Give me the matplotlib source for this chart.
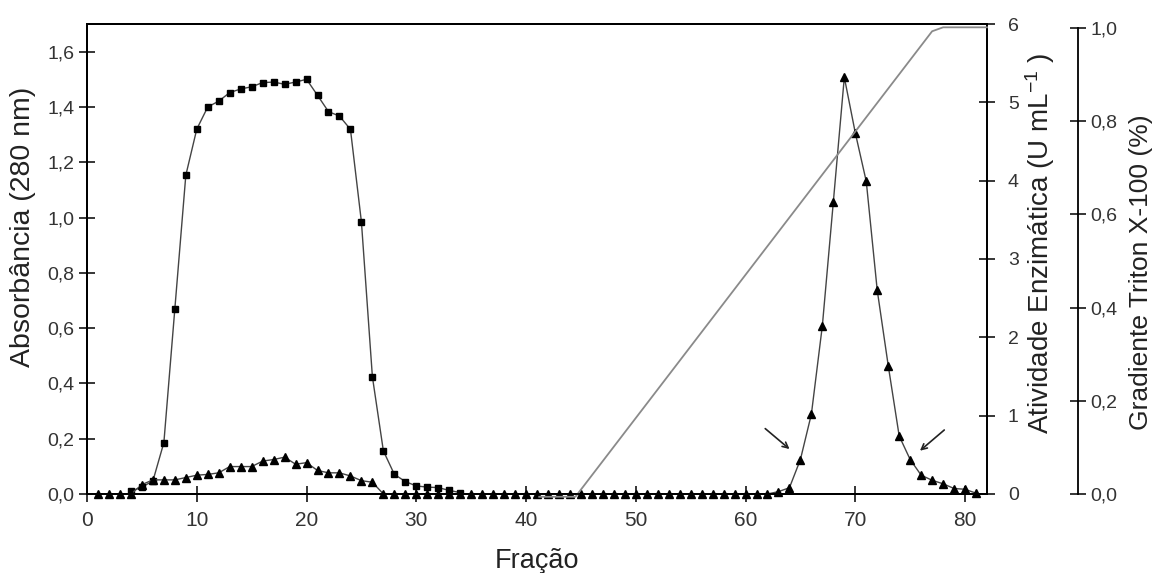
import numpy as np
import matplotlib.pyplot as plt

plt.rcParams['font.family'] = ['Liberation Sans', 'DejaVu Sans']
plt.rcParams['mathtext.fontset'] = 'custom'
plt.rcParams['mathtext.rm'] = 'Liberation Sans'
plt.rcParams['mathtext.it'] = 'Liberation Sans'

# Absorbancia 280 nm (quadrados)
frac_abs = [4, 5, 6, 7, 8, 9, 10, 11, 12, 13, 14, 15, 16, 17, 18, 19, 20,
            21, 22, 23, 24, 25, 26, 27, 28, 29, 30, 31, 32, 33, 34]
absorb = [0.01, 0.025, 0.047, 0.186, 0.67, 1.153, 1.32, 1.40, 1.421, 1.452,
          1.465, 1.473, 1.488, 1.490, 1.482, 1.49, 1.50, 1.442, 1.383, 1.367,
          1.319, 0.984, 0.424, 0.156, 0.071, 0.045, 0.029, 0.025, 0.023,
          0.013, 0.005]

# atividade enzimatica (triangulos)
frac_ativ = list(range(1, 82))
ativ = [0, 0, 0, 0, 0.12, 0.18, 0.18, 0.18, 0.21, 0.24,
        0.25, 0.27, 0.35, 0.35, 0.35, 0.42, 0.44, 0.47, 0.38, 0.40,
        0.30, 0.27, 0.27, 0.23, 0.17, 0.15, 0, 0, 0, 0,
        0, 0, 0, 0, 0, 0, 0, 0, 0, 0,
        0, 0, 0, 0, 0, 0, 0, 0, 0, 0,
        0, 0, 0, 0, 0, 0, 0, 0, 0, 0,
        0, 0, 0.03, 0.08, 0.44, 1.02, 2.15, 3.73, 5.32, 4.61,
        3.99, 2.60, 1.64, 0.74, 0.44, 0.24, 0.175, 0.13, 0.07, 0.06,
        0.01]

# gradiente Triton X-100
frac_grad = [41.2, 44.5, 77.0, 78.0, 82.0]
grad = [-0.006, -0.006, 0.993, 1.0015, 1.0015]

abs_ticks = ['0,0', '0,2', '0,4', '0,6', '0,8', '1,0', '1,2', '1,4', '1,6']
triton_ticks = ['0,0', '0,2', '0,4', '0,6', '0,8', '1,0']

fig = plt.figure(figsize=(11.56, 5.73), dpi=100)
ax = fig.add_axes([0.0753, 0.1379, 0.7785, 0.8202])
ax2 = ax.twinx()
ax3 = ax.twinx()
ax3.spines['right'].set_position(('axes', 1.101))

ax3.plot(frac_grad, grad, color='#8a8a8a', lw=1.3, clip_on=False, zorder=1)
ax.plot(frac_abs, absorb, color='#444444', lw=1.0, marker='s', ms=5,
        mfc='black', mec='black', zorder=3)
ax2.plot(frac_ativ, ativ, color='#444444', lw=1.0, marker='^', ms=5.5,
         mfc='black', mec='black', clip_on=False)

ax.set_xlim(0, 82)
ax.set_ylim(0, 1.7)
ax2.set_ylim(0, 6)
ax3.set_ylim(0, 1.0086)
ax3.spines['right'].set_bounds(0, 1.0)

ax.set_xticks(np.arange(0, 81, 10))
ax.set_yticks(np.arange(0, 1.61, 0.2))
ax.set_yticklabels(abs_ticks)
ax2.set_yticks(range(0, 7))
ax3.set_yticks(np.arange(0, 1.01, 0.2))
ax3.set_yticklabels(triton_ticks)

for a in (ax, ax2, ax3):
    a.tick_params(direction='inout', length=12, width=1.1, labelsize=14,
                  colors='black', labelcolor='#333333', pad=3)
    for s in a.spines.values():
        s.set_linewidth(1.3)
ax.tick_params(axis='x', labelsize=15, pad=6)
ax2.tick_params(axis='y', pad=9)

ax.set_xlabel('Fração', fontsize=19.5, color='#222222', labelpad=13)
ax.set_ylabel('Absorbância (280 nm)', fontsize=20.5, color='#222222', labelpad=8)
ax2.set_ylabel('Atividade Enzimática (U mL$^{-1}$ )', fontsize=20,
               color='#222222', labelpad=3)
ax3.set_ylabel('Gradiente Triton X-100 (%)', fontsize=19, color='#222222',
               labelpad=8)
ax.yaxis.label.set_y(0.568)
ax2.yaxis.label.set_y(0.534)
ax3.yaxis.label.set_y(0.472)

# setas
ax.annotate('', xy=(64.2, 0.156), xytext=(61.6, 0.243),
            arrowprops=dict(arrowstyle='->', lw=1.2, color='#222222'))
ax.annotate('', xy=(75.7, 0.15), xytext=(78.3, 0.238),
            arrowprops=dict(arrowstyle='->', lw=1.2, color='#222222'))

fig.savefig('out.png', dpi=100)
